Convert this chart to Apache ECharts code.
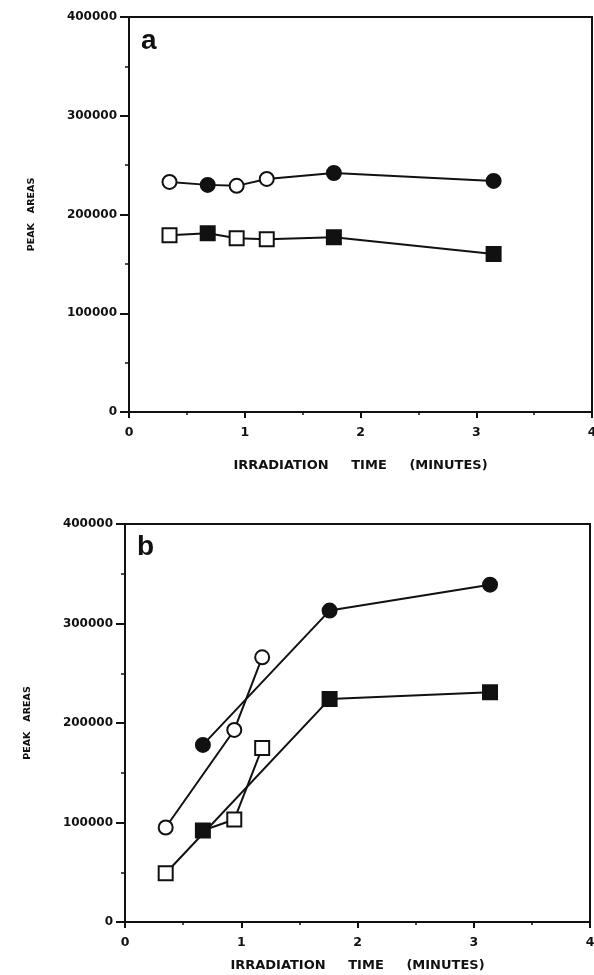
<!DOCTYPE html>
<html>
<head>
<meta charset="utf-8">
<script src="https://cdn.jsdelivr.net/npm/echarts@6/dist/echarts.min.js"></script>
<style>
  html, body { margin: 0; padding: 0; background: #fff; }
  #chart { width: 594px; height: 975px; }
</style>
</head>
<body>
<div id="chart"></div>
<script>
// irradiation times (minutes), shared by all series
const timeA = [0.35, 0.68, 0.93, 1.19, 1.77, 3.15]
const circlesA = [233000, 230000, 229000, 236000, 242000, 234000]
const squaresA = [179000, 181000, 176000, 175000, 177000, 160000]

const timeB = [0.35, 0.67, 0.94, 1.18, 1.76, 3.14]
const circlesB = [95000, 178000, 193000, 266000, 313000, 339000]
const squaresB = [49000, 92000, 103000, 175000, 224000, 231000]

// which points are drawn with filled symbols
const filled = [false, true, false, false, true, true]

// point indices joined by a line
const runsA = [[0, 1, 2, 3, 4, 5]]
const circleRunsB = [[0, 2, 3], [1, 4, 5]]
const squareRunsB = [[1, 2, 3], [0, 4, 5]]

const yTicks = [0, 100000, 200000, 300000, 400000]
const xTicks = [0, 1, 2, 3, 4]

const FONT = 'DejaVu Sans'
const black = '#111'

function makeSeries(times, values, runs, symbol, gridIndex) {
  return runs.map((run) => ({
    type: 'line',
    xAxisIndex: gridIndex,
    yAxisIndex: gridIndex,
    symbol: symbol,
    symbolSize: 14,
    showAllSymbol: true,
    animation: false,
    lineStyle: { color: black, width: 2 },
    data: run.map((i) => ({
      value: [times[i], values[i]],
      itemStyle: {
        color: filled[i] ? black : '#fff',
        borderColor: black,
        borderWidth: 2,
      },
    })),
  }))
}

function xAxis(gridIndex, nameGap) {
  return {
    type: 'value',
    gridIndex,
    min: xTicks[0],
    max: xTicks[xTicks.length - 1],
    interval: 1,
    name: 'IRRADIATION     TIME     (MINUTES)',
    nameLocation: 'middle',
    nameGap: nameGap,
    nameTextStyle: { fontFamily: FONT, fontWeight: 'bold', fontSize: 13, color: black },
    axisLine: { lineStyle: { color: black, width: 2 } },
    axisTick: { inside: false, length: 6, lineStyle: { color: black, width: 2 } },
    minorTick: { show: true, splitNumber: 2, length: 3, lineStyle: { color: black, width: 1.5 } },
    axisLabel: { fontFamily: FONT, fontWeight: 'bold', fontSize: 12.5, color: black, margin: 14 },
    splitLine: { show: false },
  }
}

function yAxis(gridIndex) {
  return {
    type: 'value',
    gridIndex,
    min: yTicks[0],
    max: yTicks[yTicks.length - 1],
    interval: 100000,
    name: 'PEAK   AREAS',
    nameLocation: 'middle',
    nameRotate: 90,
    nameGap: 92,
    nameTextStyle: { fontFamily: FONT, fontWeight: 'bold', fontSize: 9.5, color: black },
    axisLine: { lineStyle: { color: black, width: 2 } },
    axisTick: { inside: false, length: 9, lineStyle: { color: black, width: 2 } },
    minorTick: { show: true, splitNumber: 2, length: 4, lineStyle: { color: black, width: 1.5 } },
    axisLabel: {
      fontFamily: FONT, fontWeight: 'bold', fontSize: 12, color: black, margin: 12,
      formatter: (v) => String(v),
    },
    splitLine: { show: false },
  }
}

const chart = echarts.init(document.getElementById('chart'), null, { renderer: 'canvas' })

chart.setOption({
  backgroundColor: '#fff',
  animation: false,
  grid: [
    { left: 129, top: 17, width: 463, height: 395, show: true, borderColor: black, borderWidth: 2, outerBoundsMode: 'none' },
    { left: 125, top: 524, width: 465, height: 398, show: true, borderColor: black, borderWidth: 2, outerBoundsMode: 'none' },
  ],
  xAxis: [xAxis(0, 47), xAxis(1, 37)],
  yAxis: [yAxis(0), yAxis(1)],
  graphic: [
    { type: 'text', left: 141, top: 27, style: { text: 'a', font: 'bold 28px "Liberation Sans"', fill: black } },
    { type: 'text', left: 137, top: 533, style: { text: 'b', font: 'bold 28px "Liberation Sans"', fill: black } },
  ],
  series: [
    ...makeSeries(timeA, circlesA, runsA, 'circle', 0),
    ...makeSeries(timeA, squaresA, runsA, 'rect', 0),
    ...makeSeries(timeB, circlesB, circleRunsB, 'circle', 1),
    ...makeSeries(timeB, squaresB, squareRunsB, 'rect', 1),
  ],
})
</script>
</body>
</html>
